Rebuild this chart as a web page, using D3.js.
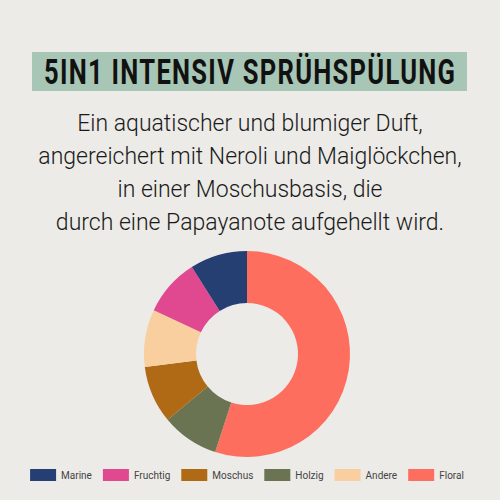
<!DOCTYPE html>
<html>
<head>
<meta charset="utf-8">
<script src="https://cdn.jsdelivr.net/npm/d3@7"></script>
<style>
  html, body { margin: 0; padding: 0; background: #ecebe7; }
  svg { display: block; }
</style>
</head>
<body>
<div id="chart"></div>
<script>
// Data
const title = "5IN1 INTENSIV SPRÜHSPÜLUNG";
const description = [
  "Ein aquatischer und blumiger Duft,",
  "angereichert mit Neroli und Maiglöckchen,",
  "in einer Moschusbasis, die",
  "durch eine Papayanote aufgehellt wird."
];
// slice order as drawn, clockwise from 12 o'clock
const sliceNames = ["Floral", "Holzig", "Moschus", "Andere", "Fruchtig", "Marine"];
const sliceValues = [55, 9, 9, 9, 9, 9];
// legend order
const legendNames = ["Marine", "Fruchtig", "Moschus", "Holzig", "Andere", "Floral"];
const colors = {
  Marine: "#263f73",
  Fruchtig: "#e0488f",
  Moschus: "#b06a16",
  Holzig: "#6a7452",
  Andere: "#f9cf9f",
  Floral: "#fe6e5f"
};

var width = 500, height = 500;
var svg = d3.select("#chart").append("svg")
  .attr("width", width)
  .attr("height", height);

svg.append("rect")
  .attr("width", width).attr("height", height)
  .attr("fill", "#ecebe7");

// Title banner
svg.append("rect")
  .attr("x", 32).attr("y", 52)
  .attr("width", 435).attr("height", 39)
  .attr("fill", "#a8c6b5");

// condensed look: squeeze the glyphs horizontally, then spread letters
var sx = 0.73;
svg.append("text")
  .attr("transform", "scale(" + sx + ",1)")
  .attr("x", 249.5 / sx).attr("y", 84)
  .attr("text-anchor", "middle")
  .attr("font-family", "Roboto")
  .attr("font-weight", "bold")
  .attr("font-size", 35)
  .attr("fill", "#111")
  .attr("textLength", 411 / sx)
  .attr("lengthAdjust", "spacing")
  .text(title);

// Description
svg.append("g").selectAll("text")
  .data(description)
  .join("text")
  .attr("x", 250)
  .attr("y", (d, i) => 131 + i * 33)
  .attr("text-anchor", "middle")
  .attr("font-family", "Roboto")
  .attr("font-weight", 300)
  .attr("font-size", 23)
  .attr("fill", "#1a1a1a")
  .text(d => d);

// Donut
var cx = 247, cy = 354;
var pie = d3.pie().sort(null).value(d => d.value);
var arc = d3.arc().innerRadius(51).outerRadius(103);
var slices = sliceNames.map((n, i) => ({name: n, value: sliceValues[i]}));

svg.append("g")
  .attr("transform", "translate(" + cx + "," + cy + ")")
  .selectAll("path")
  .data(pie(slices))
  .join("path")
  .attr("d", arc)
  .attr("fill", d => colors[d.data.name]);

// Legend
var legend = svg.append("g").attr("transform", "translate(0,469)");
var items = legend.selectAll("g")
  .data(legendNames)
  .join("g");

items.append("rect")
  .attr("width", 26).attr("height", 12)
  .attr("fill", d => colors[d]);

items.append("text")
  .attr("x", 31).attr("y", 10)
  .attr("font-family", "Roboto")
  .attr("font-size", 10)
  .attr("fill", "#444")
  .text(d => d);

// lay out the legend row centred under the chart
var gap = 11, pos = [], total = 0;
items.each(function() {
  var w = 31 + d3.select(this).select("text").node().getComputedTextLength();
  pos.push(total);
  total += w + gap;
});
total -= gap;
var start = 247 - total / 2;
items.attr("transform", (d, i) => "translate(" + (start + pos[i]) + ",0)");
</script>
</body>
</html>
